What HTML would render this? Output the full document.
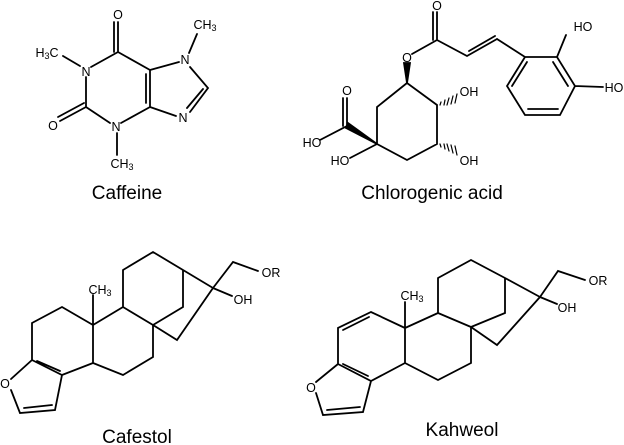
<!DOCTYPE html>
<html><head><style>
html,body{margin:0;padding:0;background:#fff;}
svg{display:block;}
text{font-family:"Liberation Sans",sans-serif;fill:#000;}
.l{font-size:19px;text-anchor:middle;}
.a{font-size:12.5px;text-anchor:middle;dominant-baseline:central;}
</style></head><body>
<svg width="624" height="445" viewBox="0 0 624 445" xmlns="http://www.w3.org/2000/svg">
<g stroke="#000" stroke-width="1.8" fill="none" stroke-linecap="round">
<!-- Caffeine -->
<path d="M91,67 L118,52 L150,70 L150,107 L121,123 M110,123 L86,107 L86,77 M118,52 L118,22 M114,52 L114,22 M146,74 L146,103 M150,70 L179,62 M150,107 L176,116 M190,67 L208,88 L190,112 M203,89 L187,108 M86,107 L60,121 M84,103 L58,117 M63,56 L80,66 M117,133 L117,155 M189,53 L197,34"/>
<!-- Chlorogenic acid -->
<path d="M437,40 L437,12 M433,40 L433,12 M437,40 L412,54 M437,40 L467,56 L497,39 M469,51 L495,36 M497,39 L525,57 L557,57 L575,86 L560,115 L525,115 L507,86 L525,57 M553,62 L568,86 M558,109 L528,109 M512,86 L527,62 M557,57 L566,35 M575,86 L603,87 M407,83 L437,105 L437,144 L407,160 L377,144 L377,107 L407,83 M347,126 L347,98 M343,126 L343,98 M347,126 L320,140 M377,144 L350,158"/>
<g stroke-width="1.2">
<path d="M441,102 L440,105 M445,100 L444,105 M449,98 L447,105 M453,96 L451,104 M457,94 L455,103"/>
<path d="M441,147 L440,144 M445,149 L444,144 M449,151 L447,144 M453,153 L451,145 M457,155 L455,146"/>
</g>
<polygon points="407,83 404,63 410,63" fill="#000"/>
<polygon points="377,144 346,128 348,123" fill="#000"/>
<!-- Cafestol -->
<path d="M123,270 L153,252 L183,270 L213,288 L233,262 L258,271 M183,270 L183,307 L153,325 M123,270 L123,307 L153,325 M123,307 L93,325 M153,325 L177,340 L213,288 L232,296 M153,325 L153,357 L123,375 L93,363 L93,325 M93,325 L62,307 L32,323 L32,360 L62,375 L93,363 M37,361 L60,371 M93,325 L93,295 M32,360 L11,379 M11,390 L20,413 L55,410 L62,375 M24,408 L52,405"/>
<!-- Kahweol -->
<path d="M438,278 L471,260 L505,278 L540,297 L558,271 L585,280 M505,278 L505,313 L471,327 M438,278 L438,313 L471,327 M438,313 L405,328 M471,327 L497,345 L540,297 L557,304 M471,327 L471,363 L438,380 L405,363 L405,328 M405,328 L371,312 L338,328 L338,364 L371,381 L405,363 M369,317 L343,330 M343,364 L368,376 M405,328 L405,302 M338,364 L316,382 M316,393 L323,415 L363,412 L371,381 M327,410 L360,407"/>
</g>
<g>
<rect x="112" y="9" width="12" height="12" fill="#fff"/><text class="a" x="118" y="15">O</text>
<text class="a" x="47" y="53">H<tspan font-size="9" dy="3">3</tspan><tspan dy="-3">C</tspan></text>
<text class="a" x="86" y="72">N</text>
<text class="a" x="53" y="126">O</text>
<text class="a" x="116" y="127">N</text>
<text class="a" x="122" y="164">CH<tspan font-size="9" dy="3">3</tspan></text>
<text class="a" x="185" y="60">N</text>
<text class="a" x="183" y="118">N</text>
<text class="a" x="205" y="25">CH<tspan font-size="9" dy="3">3</tspan></text>
<text class="l" x="127" y="199">Caffeine</text>

<text class="a" x="437" y="6">O</text>
<text class="a" x="407" y="58">O</text>
<text class="a" x="583" y="27">HO</text>
<text class="a" x="614" y="88">HO</text>
<text class="a" x="469" y="92">OH</text>
<text class="a" x="469" y="161">OH</text>
<text class="a" x="347" y="91">O</text>
<text class="a" x="312" y="143">HO</text>
<text class="a" x="340" y="161">HO</text>
<text class="l" x="432" y="199">Chlorogenic acid</text>

<text class="a" x="100" y="290">CH<tspan font-size="9" dy="3">3</tspan></text>
<text class="a" x="271" y="273">OR</text>
<text class="a" x="243" y="300">OH</text>
<text class="a" x="5" y="384">O</text>
<text class="l" x="137" y="443">Cafestol</text>

<text class="a" x="412" y="296">CH<tspan font-size="9" dy="3">3</tspan></text>
<text class="a" x="598" y="281">OR</text>
<text class="a" x="567" y="308">OH</text>
<text class="a" x="311" y="388">O</text>
<text class="l" x="462" y="436">Kahweol</text>
</g>
</svg>
</body></html>
